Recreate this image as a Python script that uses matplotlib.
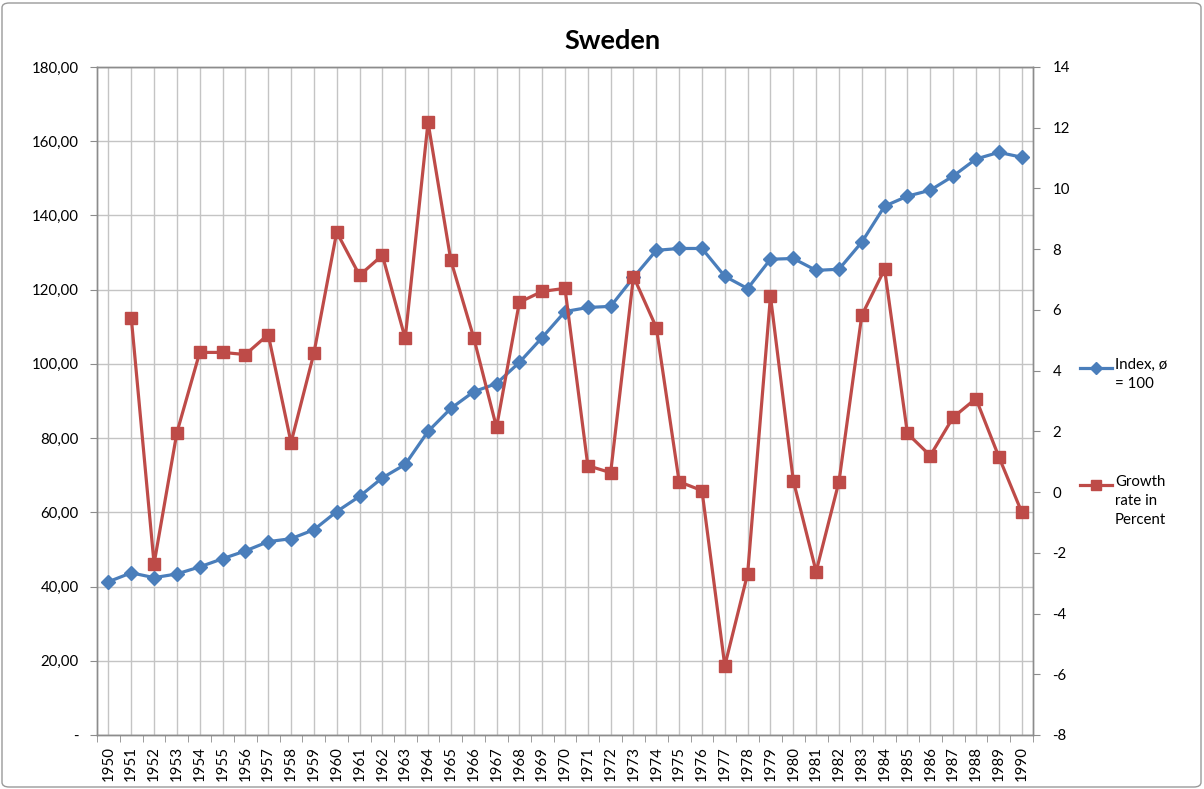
import numpy as np
import matplotlib
matplotlib.use("Agg")
import matplotlib.pyplot as plt
from matplotlib.lines import Line2D
from matplotlib.patches import FancyBboxPatch
from matplotlib.ticker import FixedLocator, FuncFormatter

plt.rcParams['font.family'] = ['Lato', 'DejaVu Sans']
plt.rcParams['axes.unicode_minus'] = False

# data
years = list(range(1950, 1991))
index_vals = [41.3, 43.7, 42.4, 43.4, 45.3, 47.5, 49.6, 52.1, 52.9, 55.3,
              60.2, 64.3, 69.3, 72.9, 81.8, 88.0, 92.5, 94.7, 100.4, 107.1,
              114.1, 115.2, 115.5, 123.3, 130.6, 131.1, 131.1, 123.6, 120.3, 128.2,
              128.4, 125.2, 125.5, 132.8, 142.5, 145.2, 146.8, 150.6, 155.2, 157.0,
              155.7]
growth_vals = [np.nan, 5.75, -2.36, 1.96, 4.60, 4.60, 4.53, 5.19, 1.63, 4.57,
               8.56, 7.14, 7.80, 5.06, 12.18, 7.63, 5.09, 2.13, 6.25, 6.61,
               6.71, 0.87, 0.64, 7.10, 5.42, 0.34, 0.05, -5.72, -2.69, 6.45,
               0.38, -2.62, 0.34, 5.82, 7.34, 1.93, 1.20, 2.46, 3.08, 1.17,
               -0.65]
left_ticks = list(range(0, 181, 20))
right_ticks = list(range(-8, 15, 2))

blue = '#4a7ebb'
red = '#be4b48'
grid_c = '#c4c4c4'
axis_c = '#8c8c8c'
fs = 10.8

fig = plt.figure(figsize=(12.04, 7.89), dpi=100)
ax = fig.add_axes([97/1204, 1-735/789, (1033-97)/1204, (735-67)/789])
ax2 = ax.twinx()

x = np.arange(len(years))
ax.plot(x, index_vals, color=blue, lw=2.3, marker='D', ms=7, zorder=3)
ax2.plot(x, growth_vals, color=red, lw=2.3, marker='s', ms=8.5, zorder=4)

ax.set_xlim(-0.5, len(years) - 0.5)
ax.set_ylim(0, 180)
ax2.set_ylim(-8, 14)

# x axis: labels at centres, tick marks at category boundaries
ax.set_xticks(x)
ax.set_xticklabels([str(y) for y in years], rotation=90, fontsize=fs)
ax.xaxis.set_minor_locator(FixedLocator(np.arange(-0.5, len(years), 1.0)))
ax.tick_params(axis='x', which='major', length=0, pad=8)
ax.tick_params(axis='x', which='minor', length=5, color=axis_c)

ax.set_yticks(left_ticks)
ax.yaxis.set_major_formatter(FuncFormatter(
    lambda v, p: '-' if v == 0 else ('%.2f' % v).replace('.', ',')))
ax.tick_params(axis='y', length=5, color=axis_c, labelsize=fs, pad=8)

ax2.set_yticks(right_ticks)
ax2.tick_params(axis='y', length=5, color=axis_c, labelsize=fs, pad=9)

ax.grid(True, axis='both', which='major', color=grid_c, lw=1)
ax.set_axisbelow(True)
for a in (ax, ax2):
    for s in a.spines.values():
        s.set_color(axis_c)
        s.set_linewidth(1)

fig.text(0.509, 1-41/789, 'Sweden', ha='center', va='center',
         fontsize=19.5, fontweight='bold')

# legend drawn by hand so the key lines up with the first text line
def key(y, color, marker, ms, lines):
    yf = 1 - y/789
    fig.add_artist(Line2D([1080/1204, 1112/1204], [yf, yf], color=color,
                          lw=2.3, transform=fig.transFigure))
    fig.add_artist(Line2D([1096/1204], [yf], color=color, marker=marker,
                          ms=ms, transform=fig.transFigure))
    fig.text(1115/1204, 1 - (y - 10)/789, lines, ha='left', va='top',
             fontsize=fs, linespacing=1.45, transform=fig.transFigure)

key(368, blue, 'D', 6, 'Index, ø\n= 100')
key(485, red, 's', 7.5, 'Growth\nrate in\nPercent')

fig.add_artist(FancyBboxPatch((2/1204, 2/789), 1199/1204, 784/789,
                              boxstyle='round,pad=0,rounding_size=0.006',
                              transform=fig.transFigure, fill=False,
                              edgecolor='#9a9a9a', lw=1))

fig.savefig('out.png', dpi=100)
